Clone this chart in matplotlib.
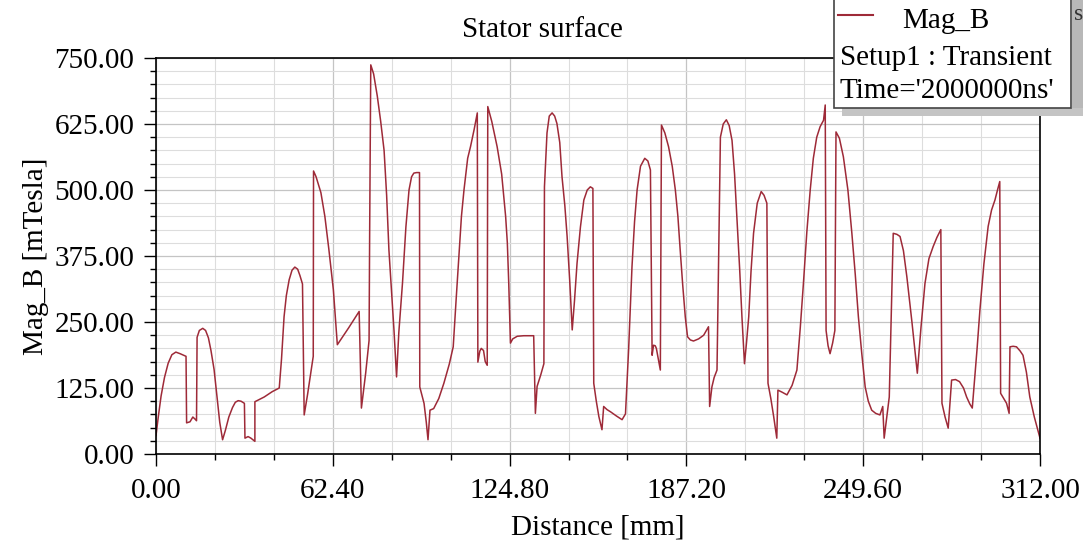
import matplotlib
matplotlib.use("Agg")
import matplotlib.pyplot as plt
from matplotlib.ticker import MultipleLocator, FormatStrFormatter
from matplotlib.patches import Rectangle
from matplotlib.lines import Line2D

distance_mm = [0, 0.8, 1.8, 3, 4.3, 5.6, 7, 8.5, 10.6, 10.8, 12, 13, 13.8, 14.3, 14.5,
               15.3, 16.5, 17.5, 18.5, 19.4, 20.5, 21.5, 22.5, 23.5,
               24.5, 25.7, 27, 28, 29, 30, 31.2, 31.4, 32.5, 33.5, 34.9, 34.9,
               38.2, 41, 43.5,
               44.3, 45.2, 46, 47, 48, 49, 50, 50.8, 51.7, 52.3,
               53.5, 55.5, 55.6,
               56.5, 58.2, 59.6, 61, 62.6, 63.3, 64,
               68, 71.7, 72.5,
               74, 75.2, 75.4, 75.8,
               76.8, 78.1, 79.3, 80.5, 81.4, 82.2, 83.1, 84, 84.9,
               85.7, 87, 88.2, 89.3, 90.2, 91, 92, 93, 93.1,
               94.6, 95.4, 96, 96.7, 98, 99.8, 101.6, 103.5, 104.9, 105.9, 106.9, 107.8, 108.7, 110, 111,
               112.3, 113.4, 113.6, 114.3, 114.8, 115.6, 116.2, 116.9, 117.1,
               118.5, 120.4, 122, 123.4, 124, 124.5, 125.1,
               125.9, 127.5, 129.8, 133.3, 133.9,
               134.5, 135.8, 136.9, 137.1,
               138, 138.8, 139.8, 140.7, 141.5, 142.5, 143.3, 144.3, 145.1, 146, 146.9,
               147.7, 148.6, 149.8, 151, 152.2, 153.3, 154.2, 154.5,
               155.4, 156.3, 157.4, 158, 159.2, 160.4, 162.5, 164.5, 165.7,
               166.8, 168, 168.9, 169.8, 171, 172.5, 173.6, 174.5, 175.1,
               175.6, 176.2, 176.6, 177.3, 178, 178.4,
               179.6, 180.9, 182.2, 183.3, 184.2, 185, 185.9, 186.8, 187.6, 188.6, 189.7, 191.5, 193.3,
               195, 195.4,
               196.2, 197, 198, 199.2, 200.2, 201.3, 202.3, 203.3, 204.2, 205, 206, 206.8, 207.7,
               208.4, 209.2, 210, 210.9, 212.2, 213.6, 214.6, 215.6, 216, 217, 218, 219.1, 219.5, 221,
               222.7, 224.5, 226.2, 227.4, 228.5, 229.7, 230.9, 232, 233.2, 234.4, 235.6, 236.2, 236.5,
               237.2, 237.9, 238.8, 239.6, 240,
               241.2, 242.6, 244.2, 245.6, 246.8, 247.9, 249.1, 250.3, 251.4, 252.6, 254, 255.5, 256.5,
               257, 258.8, 260.2,
               261.5, 262.6, 263.8, 265, 266.8, 268.7, 270, 271.4, 272.8, 274.3, 275.6, 277, 277.4,
               278.5, 279.6, 280.8, 282.2, 283.6, 285, 286.1, 287.2, 288.1, 288.8,
               289.8, 290.8, 292.2, 293.7, 294.9, 296.1, 297, 297.8, 298.1, 300.2, 301.1, 301.4, 302.5,
               303.7, 305, 306, 307.2, 308.4, 310, 312]
mag_b_mT = [35, 70, 110, 145, 172, 188, 193, 190, 185, 59, 61, 70, 66, 63, 221,
            234, 238, 234, 220, 196, 160, 110, 60, 27,
            45, 70, 88, 98, 101, 100, 96, 30, 33, 30, 24, 99,
            108, 118, 125,
            180, 260, 300, 330, 348, 354, 350, 338, 322, 74,
            113, 185, 536,
            525, 495, 450, 388, 311, 260, 207,
            239, 270, 87,
            153, 215, 412, 737,
            720, 678, 630, 575, 490, 387, 310, 234, 146,
            230, 324, 430, 500, 525, 532, 533, 533, 127,
            96, 60, 27, 83, 86, 105, 134, 170, 203, 290, 373, 450, 500, 560, 582,
            615, 646, 174, 195, 200, 196, 175, 168, 658,
            630, 582, 530, 450, 400, 323, 210,
            218, 223, 224, 224, 77,
            128, 150, 171, 506,
            608, 640, 646, 640, 626, 590, 525, 470, 412, 330, 235,
            290, 361, 430, 481, 500, 506, 503, 134,
            100, 71, 46, 90, 84, 80, 72, 65, 76,
            197, 355, 440, 500, 545, 560, 555, 538, 187,
            206, 205, 200, 180, 159, 623,
            608, 582, 545, 500, 450, 387, 320, 260, 222, 216, 214, 218, 225,
            241, 90,
            127, 145, 159, 600, 625, 633, 622, 594, 530, 450, 350, 260, 171,
            210, 260, 345, 418, 475, 497, 490, 475, 134, 105, 71, 30, 121, 117,
            112, 130, 159, 240, 323, 420, 500, 560, 600, 620, 632, 661, 234,
            205, 190, 210, 234, 610,
            598, 563, 500, 418, 340, 260, 190, 127, 100, 83, 77, 74, 90,
            30, 108, 418,
            416, 412, 385, 336, 250, 153, 240, 323, 370, 393, 410, 425, 96,
            70, 49, 140, 141, 137, 125, 108, 95, 87, 134,
            200, 273, 360, 431, 462, 481, 500, 516, 115, 96, 77, 203, 204,
            203, 195, 187, 155, 108, 70, 30]

x_ticks = [0.00, 62.40, 124.80, 187.20, 249.60, 312.00]
y_ticks = [0.00, 125.00, 250.00, 375.00, 500.00, 625.00, 750.00]
title = "Stator surface"
x_label = "Distance [mm]"
y_label = "Mag_B [mTesla]"
legend_lines = ["Mag_B", "Setup1 : Transient", "Time='2000000ns'"]

plt.rcParams['font.family'] = ['Liberation Serif', 'DejaVu Serif']
line_color = '#9e2a38'

W, H = 1083, 552
fig = plt.figure(figsize=(W / 100, H / 100), dpi=100)
ax = fig.add_axes([156 / W, 1 - 454 / H, (1040 - 156) / W, (454 - 58) / H])

ax.plot(distance_mm, mag_b_mT, color=line_color, lw=1.1)
ax.set_xlim(0, 312)
ax.set_ylim(0, 750)
ax.set_xticks(x_ticks)
ax.set_yticks(y_ticks)
ax.xaxis.set_minor_locator(MultipleLocator(20.8))
ax.yaxis.set_minor_locator(MultipleLocator(25))
ax.xaxis.set_major_formatter(FormatStrFormatter('%.2f'))
ax.yaxis.set_major_formatter(FormatStrFormatter('%.2f'))
ax.grid(True, which='major', color='#c4c4c4', lw=0.9)
ax.grid(True, which='minor', color='#dddddd', lw=0.8)
ax.set_axisbelow(True)
ax.tick_params(which='major', direction='out', length=8.6, width=1, labelsize=21)
ax.tick_params(which='minor', direction='out', length=4.3, width=1)
ax.tick_params(axis='y', which='major', pad=7)
ax.tick_params(axis='x', which='major', pad=9)
for s in ax.spines.values():
    s.set_linewidth(1.2)
    s.set_color('black')

# title is centred on the figure, not on the axes
ax.set_title(title, fontsize=21, pad=15, x=(542 - 156) / (1040 - 156))
ax.set_xlabel(x_label, fontsize=21, labelpad=7)
ax.set_ylabel(y_label, fontsize=21, labelpad=4)

# legend box (drawn in figure pixel coordinates)
def fx(px):
    return px / W

def fy(py):
    return 1 - py / H

fig.patches.append(Rectangle((fx(1072), fy(116)), fx(11), 116 / H, transform=fig.transFigure,
                             facecolor='#b8b8b8', edgecolor='none', zorder=5))
fig.patches.append(Rectangle((fx(842), fy(116)), fx(241), 8 / H, transform=fig.transFigure,
                             facecolor='#c4c4c4', edgecolor='none', zorder=5))
fig.patches.append(Rectangle((fx(834), fy(108)), fx(237), 110 / H, transform=fig.transFigure,
                             facecolor='white', edgecolor='#444444', lw=1.2, zorder=6))
fig.lines.append(Line2D([fx(838), fx(873)], [fy(15), fy(15)], transform=fig.transFigure,
                        color=line_color, lw=1.5, zorder=7))
fig.text(fx(902), fy(21), legend_lines[0], fontsize=21, va='center', ha='left', zorder=7)
fig.text(fx(840), fy(58), legend_lines[1], fontsize=21, va='center', ha='left', zorder=7)
fig.text(fx(840), fy(91), legend_lines[2], fontsize=21, va='center', ha='left', zorder=7)
fig.text(fx(1074), fy(14), "s", fontsize=17, va='center', ha='left', zorder=6, color='#333333')

fig.savefig("out.png", dpi=100)
